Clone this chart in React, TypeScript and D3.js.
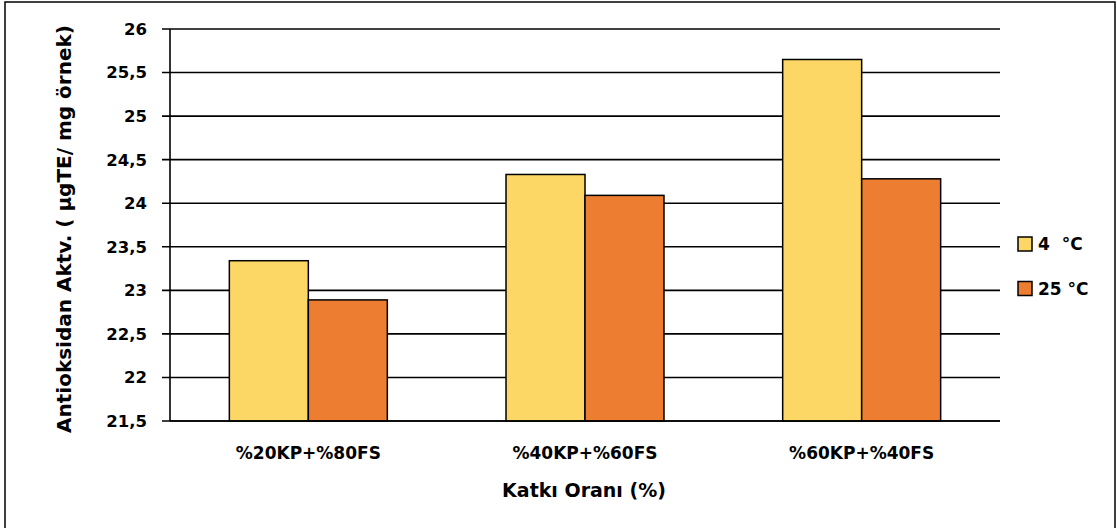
import React from "react";
import * as d3 from "d3";

const categories = ["%20KP+%80FS", "%40KP+%60FS", "%60KP+%40FS"];
const seriesNames = ["4  °C", "25 °C"];
const series4C = [23.34, 24.33, 25.65];
const series25C = [22.89, 24.09, 24.28];
const yTicks = [21.5, 22, 22.5, 23, 23.5, 24, 24.5, 25, 25.5, 26];
const colors = ["#FDD765", "#ED7D31"];

const W = 1117;
const H = 528;
const FONT = "'DejaVu Sans', sans-serif";

export default function App() {
  const left = 170, right = 1000, top = 29, bottom = 421;
  const y = d3.scaleLinear().domain([21.5, 26]).range([bottom, top]);
  const x0 = d3.scaleBand<string>().domain(categories).range([left, right]).paddingInner(0.429).paddingOuter(0.2145);
  const x1 = d3.scaleBand<string>().domain(seriesNames).range([0, x0.bandwidth()]);
  const fmt = (v: number) => String(v).replace(".", ",");
  const data = [series4C, series25C];

  return (
    <svg width={W} height={H} style={{ position: "absolute", left: 0, top: 0 }} fontFamily={FONT} fontWeight="bold">
      <rect x={0} y={0} width={W} height={H} fill="#fff" />
      <rect x={5} y={2} width={1110} height={540} fill="#fff" stroke="#000" strokeWidth={1.5} />
      {yTicks.map((t) => (
        <g key={t}>
          <line x1={162} x2={right} y1={y(t)} y2={y(t)} stroke="#000" strokeWidth={1.6} />
          <text x={147} y={y(t)} dy="0.36em" textAnchor="end" fontSize={16.5} fill="#000">{fmt(t)}</text>
        </g>
      ))}
      <line x1={left} x2={left} y1={top} y2={bottom} stroke="#000" strokeWidth={1.6} />
      {categories.map((c, i) => (
        <g key={c}>
          {data.map((s, j) => (
            <rect key={j}
              x={(x0(c) as number) + (x1(seriesNames[j]) as number)}
              y={y(s[i])}
              width={x1.bandwidth()}
              height={bottom - y(s[i])}
              fill={colors[j]} stroke="#000" strokeWidth={1.5} />
          ))}
          <text x={(x0(c) as number) + x0.bandwidth() / 2} y={459} textAnchor="middle" fontSize={17} fill="#000">{c}</text>
        </g>
      ))}
      <line x1={left} x2={right} y1={bottom} y2={bottom} stroke="#000" strokeWidth={1.6} />
      <text x={584} y={497} textAnchor="middle" fontSize={19} fill="#000">Katkı Oranı (%)</text>
      <text transform={`translate(71,229) rotate(-90)`} textAnchor="middle" fontSize={20} fill="#000">Antioksidan Aktv. ( µgTE/ mg örnek)</text>
      {seriesNames.map((n, j) => (
        <g key={n}>
          <rect x={1018} y={237 + j * 44.5} width={14} height={14} fill={colors[j]} stroke="#000" strokeWidth={1.5} />
          <text x={1038} y={250 + j * 45} fontSize={17} fill="#000" style={{ whiteSpace: "pre" }}>{n}</text>
        </g>
      ))}
    </svg>
  );
}
